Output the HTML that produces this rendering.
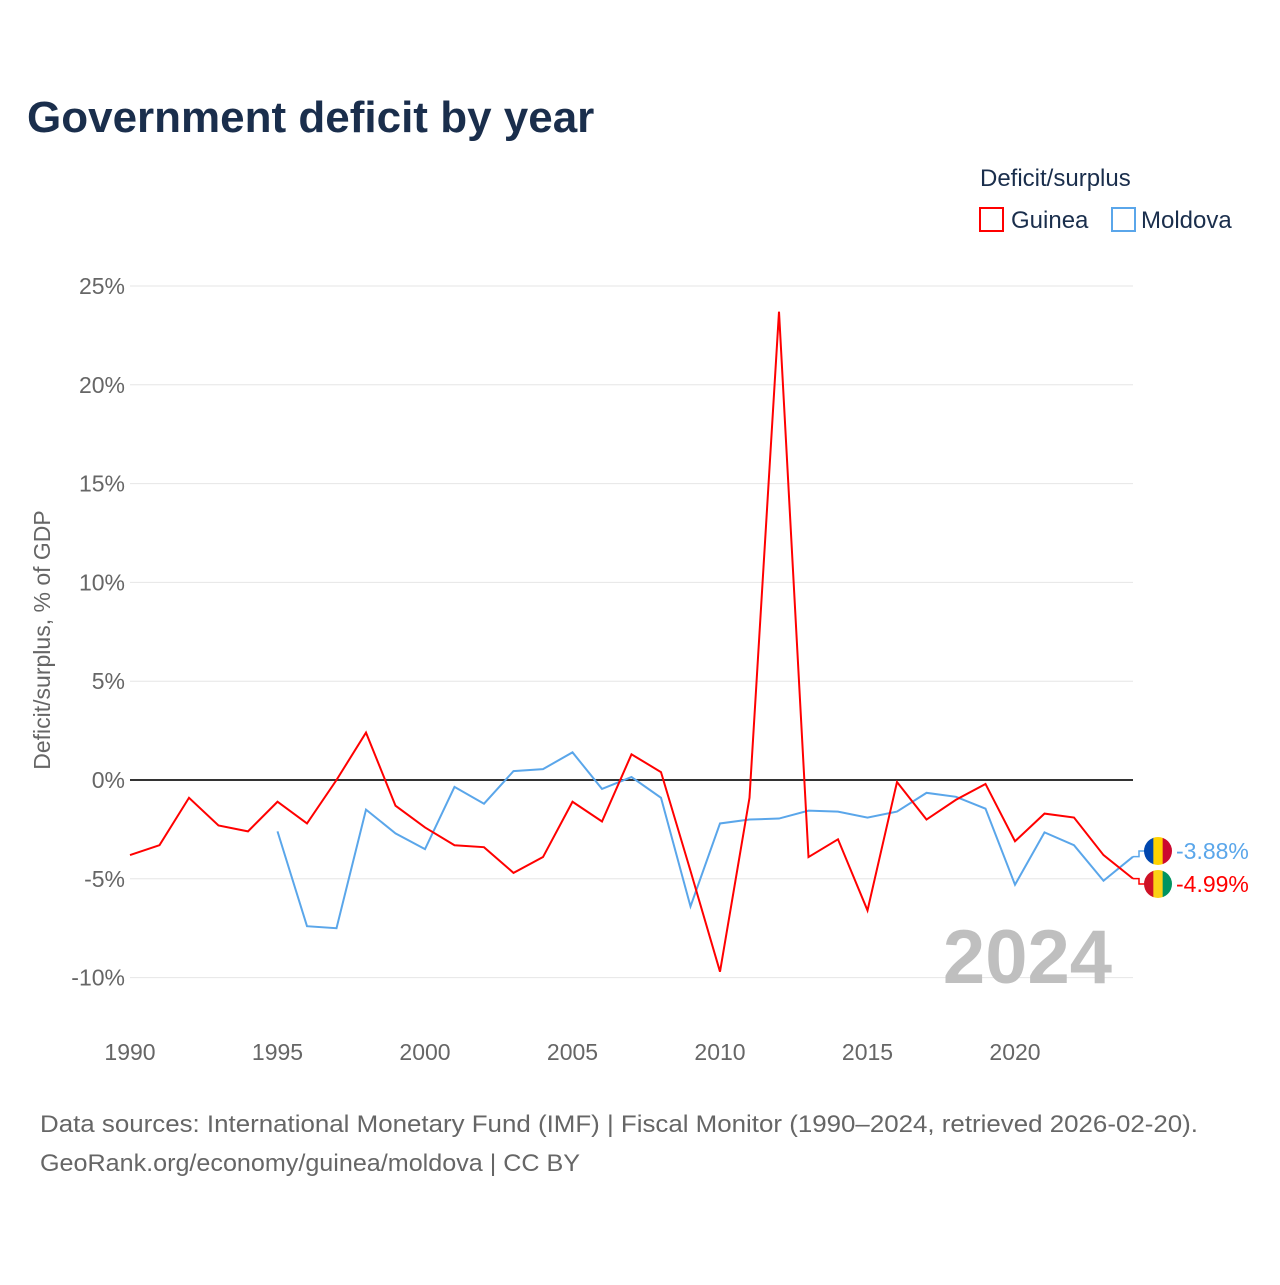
<!DOCTYPE html>
<html><head><meta charset="utf-8"><style>
body{margin:0;background:#fff;font-family:"Liberation Sans",sans-serif;}
svg text{font-family:"Liberation Sans",sans-serif;}
</style></head><body>
<svg id="c" width="1280" height="1280" xmlns="http://www.w3.org/2000/svg">
<text x="27" y="132" font-size="44" font-weight="bold" fill="#1a2e4c">Government deficit by year</text>
<text x="980" y="186" font-size="24" fill="#1a2e4c">Deficit/surplus</text>
<g><rect x="980" y="208" width="23" height="23" fill="none" stroke="#ff0000" stroke-width="2"/><text x="1011" y="228" font-size="24" fill="#1a2e4c">Guinea</text></g>
<g><rect x="1112" y="208" width="23" height="23" fill="none" stroke="#5aa6ea" stroke-width="2"/><text x="1141" y="228" font-size="24" fill="#1a2e4c">Moldova</text></g>
<text transform="translate(50,640) rotate(-90)" text-anchor="middle" font-size="23" fill="#666">Deficit/surplus, % of GDP</text>
<g id="grid"></g><g id="series"></g>
<text x="1112" y="983" text-anchor="end" font-size="76" font-weight="bold" fill="#bfbfbf">2024</text>
<text x="40" y="1132" font-size="24" fill="#666" textLength="1158" lengthAdjust="spacingAndGlyphs">Data sources: International Monetary Fund (IMF) | Fiscal Monitor (1990–2024, retrieved 2026-02-20).</text>
<text x="40" y="1171" font-size="24" fill="#666" textLength="540" lengthAdjust="spacingAndGlyphs">GeoRank.org/economy/guinea/moldova | CC BY</text>
</svg>
<script>
const years=[];for(let y=1990;y<=2024;y++)years.push(y);
const guinea=[-3.8,-3.3,-0.9,-2.3,-2.6,-1.1,-2.2,0.0,2.4,-1.3,-2.4,-3.3,-3.4,-4.7,-3.9,-1.1,-2.1,1.3,0.4,-4.6,-9.7,-0.9,23.7,-3.9,-3.0,-6.6,-0.1,-2.0,-1.0,-0.2,-3.1,-1.7,-1.9,-3.8,-4.99];
const moldova=[null,null,null,null,null,-2.6,-7.4,-7.5,-1.5,-2.7,-3.5,-0.35,-1.2,0.45,0.55,1.4,-0.45,0.15,-0.9,-6.4,-2.2,-2.0,-1.95,-1.55,-1.6,-1.9,-1.6,-0.65,-0.85,-1.45,-5.3,-2.65,-3.3,-5.1,-3.88];
const yTicks=[25,20,15,10,5,0,-5,-10];
const xTicks=[1990,1995,2000,2005,2010,2015,2020];
const NS="http://www.w3.org/2000/svg";
const X=v=>130+(v-1990)*29.5, Y=v=>780-v*19.76;
function mk(t,a,p){const e=document.createElementNS(NS,t);for(const k in a)e.setAttribute(k,a[k]);p.appendChild(e);return e;}
const g=document.getElementById('grid'),s=document.getElementById('series');
yTicks.forEach(v=>{
 const l=mk('line',{x1:130,x2:1133,y1:Y(v),y2:Y(v),stroke:v==0?'#333':'#e6e6e6','stroke-width':v==0?2:1},g);
 
 
 const t=mk('text',{x:125,y:Y(v)+8,'text-anchor':'end','font-size':23,fill:'#666'},g);t.textContent=v+'%';
 
 
});
xTicks.forEach(v=>{const t=mk('text',{x:X(v),y:1060,'text-anchor':'middle','font-size':23,fill:'#666'},g);t.textContent=v;
 
 });
function line(arr,col,name){let d='';arr.forEach((v,i)=>{if(v==null)return;d+=(d?'L':'M')+X(years[i])+','+Y(v);});
 const p=mk('path',{d:d,fill:'none',stroke:col,'stroke-width':2},s);
 
 }
line(moldova,'#5aa6ea','moldova-line');line(guinea,'#ff0000','guinea-line');
function endLabel(v,col,ly,name,flag){
 const x=X(2024),y=Y(v);
 mk('path',{d:`M${x},${y}L${x+6},${y}L${x+6},${ly}L${x+12},${ly}`,fill:'none',stroke:col,'stroke-width':1.5},s);
 const fg=mk('g',{},s);
 
 
 const cx=x+25;
 mk('clipPath',{id:name+'c'},fg);mk('circle',{cx:cx,cy:ly,r:14},fg.lastChild);
 const cg=mk('g',{'clip-path':`url(#${name}c)`},fg);
 flag.forEach((c,i)=>mk('rect',{x:cx-14+i*28/3,y:ly-14,width:28/3+0.5,height:28,fill:c},cg));
 const t=mk('text',{x:cx+18,y:ly+8,'font-size':23,fill:col},s);t.textContent=v.toFixed(2)+'%';
 
 
}
endLabel(moldova[34],'#5aa6ea',851,'moldova',['#0046ae','#ffd200','#cc092f']);
endLabel(guinea[34],'#ff0000',884,'guinea',['#ce1126','#fcd116','#009460']);
</script>
</body></html>
